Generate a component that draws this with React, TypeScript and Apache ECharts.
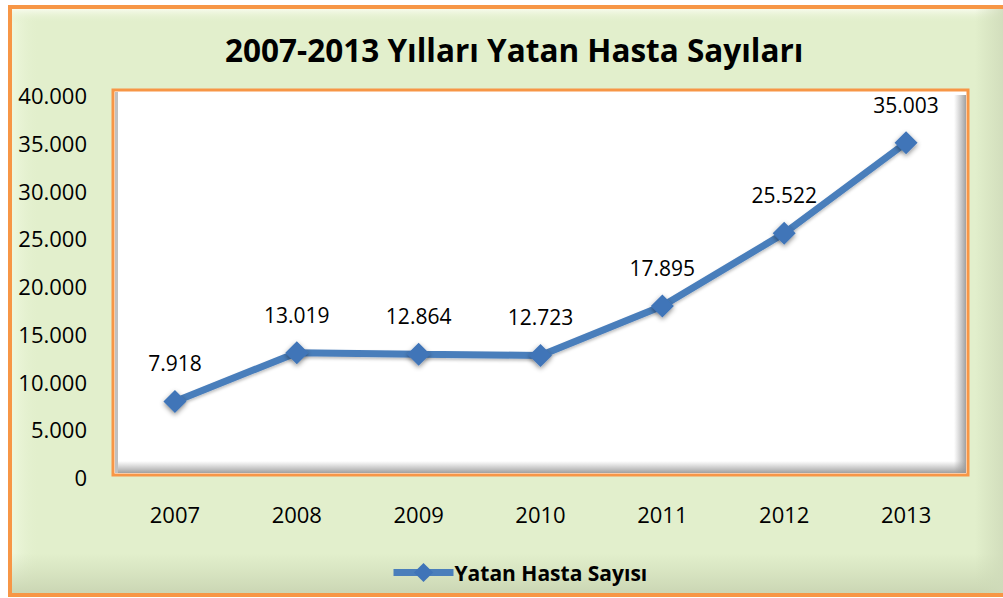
import React, { useEffect, useRef } from "react";
import * as echarts from "echarts";

const years = ["2007", "2008", "2009", "2010", "2011", "2012", "2013"];
const patients = [7918, 13019, 12864, 12723, 17895, 25522, 35003];
const seriesName = "Yatan Hasta Sayısı";
const titleText = "2007-2013 Yılları Yatan Hasta Sayıları";
const yMin = 0;
const yMax = 40000;
const yStep = 5000;

const fmt = (v: number) => {
  if (v === 0) return "0";
  const th = Math.floor(v / 1000);
  const rest = Math.round(v % 1000);
  return th > 0 ? th + "." + String(rest).padStart(3, "0") : String(rest);
};

const FONT = "'Open Sans', 'Noto Sans', sans-serif";
const ORANGE = "#F79646";
const BG = "#E2EFCC";
const BLUE = "#4A7EBB";

export default function App() {
  const ref = useRef<HTMLDivElement>(null);
  useEffect(() => {
    if (!ref.current) return;
    const chart = echarts.init(ref.current, undefined, { renderer: "svg" });
    chart.setOption({
      animation: false,
      backgroundColor: "#ffffff",
      title: {
        text: titleText,
        left: 220,
        top: 28,
        textStyle: { fontFamily: FONT, fontWeight: "bold", fontSize: 31.5, color: "#000" },
      },
      graphic: [
        { type: "rect", z: -10, shape: { x: 10, y: 7, width: 1000, height: 588 }, style: { fill: BG, stroke: ORANGE, lineWidth: 4 } },
        { type: "rect", z: -9, shape: { x: 12, y: 9, width: 28, height: 584 }, style: { fill: new echarts.graphic.LinearGradient(0, 0, 1, 0, [{ offset: 0, color: "#EEF7DD" }, { offset: 1, color: "rgba(226,239,204,0)" }]) } },
        { type: "rect", z: -9, shape: { x: 12, y: 9, width: 996, height: 14 }, style: { fill: new echarts.graphic.LinearGradient(0, 0, 0, 1, [{ offset: 0, color: "#F7FBEC" }, { offset: 1, color: "rgba(226,239,204,0)" }]) } },
        { type: "rect", z: -9, shape: { x: 12, y: 553, width: 996, height: 40 }, style: { fill: new echarts.graphic.LinearGradient(0, 0, 0, 1, [{ offset: 0, color: "rgba(205,218,182,0)" }, { offset: 1, color: "#CBD6B4" }]) } },
        { type: "rect", z: -9, shape: { x: 975, y: 9, width: 33, height: 584 }, style: { fill: new echarts.graphic.LinearGradient(0, 0, 1, 0, [{ offset: 0, color: "rgba(205,218,182,0)" }, { offset: 1, color: "#D0DBBB" }]) } },
        { type: "rect", z: -5, shape: { x: 113, y: 90, width: 855, height: 385 }, style: { fill: "#ffffff", stroke: ORANGE, lineWidth: 3 } },
        { type: "rect", z: -4, shape: { x: 954, y: 95, width: 12, height: 378 }, style: { fill: new echarts.graphic.LinearGradient(0, 0, 1, 0, [{ offset: 0, color: "rgba(160,160,160,0)" }, { offset: 1, color: "rgba(150,150,150,0.9)" }]) } },
        { type: "rect", z: -4, shape: { x: 118, y: 461, width: 848, height: 12 }, style: { fill: new echarts.graphic.LinearGradient(0, 0, 0, 1, [{ offset: 0, color: "rgba(160,160,160,0)" }, { offset: 1, color: "rgba(150,150,150,0.9)" }]) } },
        { type: "rect", z: -4, shape: { x: 115, y: 92, width: 3, height: 381 }, style: { fill: "rgba(150,150,150,0.6)" } },
      ],
      grid: { left: 114, right: 36, top: 95, bottom: 121, containLabel: false },
      xAxis: {
        type: "category",
        data: years,
        boundaryGap: true,
        axisLine: { show: false },
        axisTick: { show: false },
        axisLabel: { margin: 26, fontFamily: FONT, fontSize: 22, color: "#000" },
        splitLine: { show: false },
      },
      yAxis: {
        type: "value",
        min: yMin,
        max: yMax,
        interval: yStep,
        axisLine: { show: false },
        axisTick: { show: false },
        splitLine: { show: false },
        axisLabel: { margin: 27, fontFamily: FONT, fontSize: 22, color: "#000", formatter: (v: number) => fmt(v) },
      },
      legend: {
        left: 385,
        top: 557,
        itemWidth: 60,
        itemHeight: 24,
        itemGap: 10,
        lineStyle: { width: 7 },
        textStyle: { fontFamily: FONT, fontWeight: "bold", fontSize: 21, color: "#000", padding: [0, 0, 0, -4] },
        data: [seriesName],
      },
      series: [
        {
          name: seriesName,
          type: "line",
          data: patients,
          symbol: "diamond",
          symbolSize: 23,
          lineStyle: { color: BLUE, width: 7, shadowColor: "rgba(0,0,0,0.25)", shadowBlur: 3, shadowOffsetY: 2 },
          itemStyle: { color: "#3F74B8", shadowColor: "rgba(0,0,0,0.45)", shadowBlur: 5, shadowOffsetY: 2 },
          label: {
            show: true,
            position: "top",
            distance: 16,
            fontFamily: FONT,
            fontSize: 21,
            color: "#000",
            formatter: (p: any) => fmt(p.value),
          },
        },
      ],
    });
    return () => chart.dispose();
  }, []);
  return <div ref={ref} style={{ position: "fixed", left: 0, top: 0, width: 1003, height: 598 }} />;
}
